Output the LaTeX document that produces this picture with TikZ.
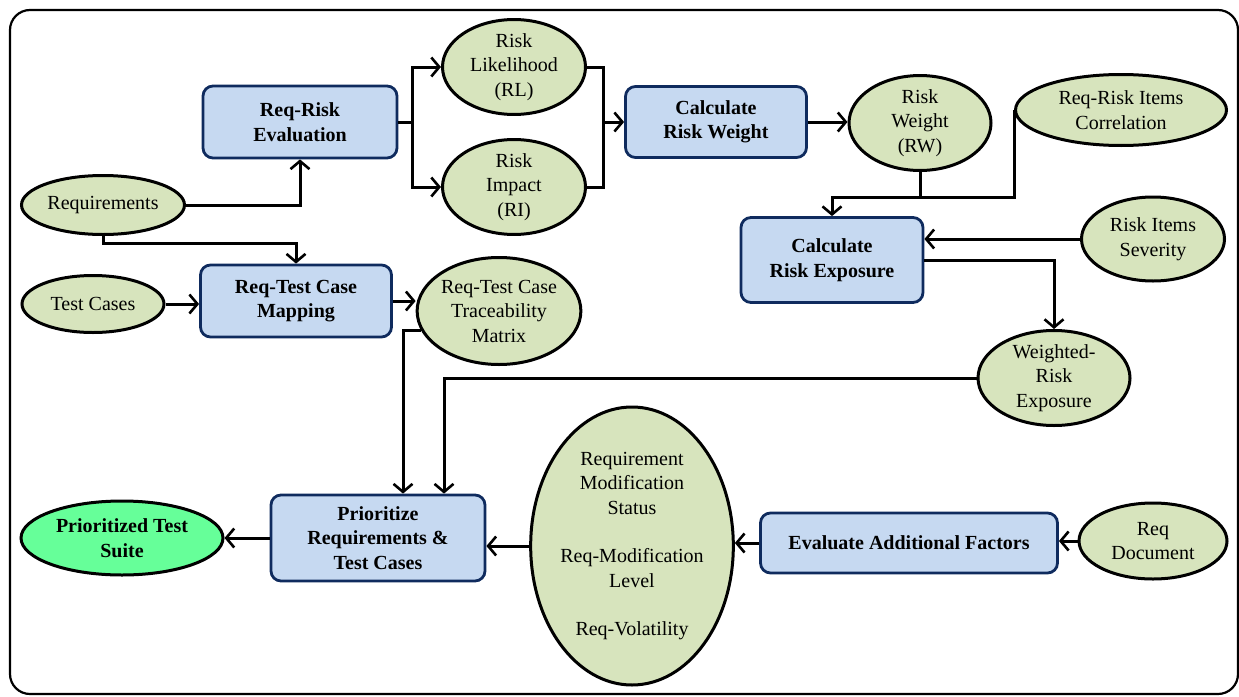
\documentclass[tikz,border=0pt]{standalone}
\usepackage{fontspec}
\setmainfont{Liberation Serif}
\usetikzlibrary{shapes.geometric,arrows.meta,calc}
\definecolor{boxfill}{HTML}{C6D9F1}
\definecolor{boxline}{HTML}{0F2B5E}
\definecolor{ellfill}{HTML}{D7E4BD}
\definecolor{suitefill}{HTML}{66FF99}
\begin{document}
\begin{tikzpicture}[x=1pt,y=-1pt,
  every node/.style={font=\rmfamily\fontsize{20}{24.5}\selectfont, align=center, inner sep=0pt},
  procbox/.style={rectangle, rounded corners=10pt, draw=boxline, line width=2.8pt, fill=boxfill, font=\rmfamily\fontsize{20}{24.5}\selectfont\bfseries},
  dataell/.style={ellipse, draw=black, line width=3pt, fill=ellfill},
  conn/.style={line width=3pt, draw=black},
  arr/.style={conn, -{Straight Barb[length=8pt,width=19pt,line width=2.6pt]}}
]
\useasboundingbox (0,0) rectangle (1239,696);
\draw[line width=2.2pt, rounded corners=20pt] (10,10) rectangle (1238,694);

% nodes
\node[procbox, minimum width=194, minimum height=72] (rre) at (300,122) {Req-Risk\\Evaluation};
\node[dataell, minimum width=143, minimum height=79] (rl) at (514,67) {Risk\\Likelihood\\(RL)};
\node[dataell, minimum width=143, minimum height=79] (ri) at (514,187) {Risk\\Impact\\(RI)};
\node[procbox, minimum width=181, minimum height=71] (crw) at (716,122) {Calculate\\Risk Weight};
\node[dataell, minimum width=142, minimum height=94] (rw) at (920,123) {Risk\\Weight\\(RW)};
\node[dataell, minimum width=211, minimum height=71] (corr) at (1121,110) {Req-Risk Items\\Correlation};
\node[procbox, minimum width=182, minimum height=85] (cre) at (832,260) {Calculate\\Risk Exposure};
\node[dataell, minimum width=143, minimum height=84] (sev) at (1153,239) {Risk Items\\Severity};
\node[dataell, minimum width=152, minimum height=95] (wre) at (1054,378) {Weighted-\\Risk\\Exposure};
\node[dataell, minimum width=163, minimum height=59] (req) at (103,205) {Requirements};
\node[dataell, minimum width=142, minimum height=57] (tc) at (93,304) {Test Cases};
\node[procbox, minimum width=191, minimum height=72] (map) at (296,301) {Req-Test Case\\Mapping};
\node[dataell, minimum width=145, minimum height=107] (tm) at (499,311) {Req-Test Case\\Traceability\\Matrix};
\node[procbox, minimum width=214, minimum height=86] (prio) at (378,538) {Prioritize\\Requirements \&\\Test Cases};
\node[dataell, fill=suitefill, minimum width=202, minimum height=74, font=\rmfamily\fontsize{20}{24.5}\selectfont\bfseries] (pts) at (122,538) {Prioritized Test\\Suite};
\node[dataell, minimum width=196, minimum height=278] (big) at (632,546) {Requirement\\Modification\\Status\\[24pt]Req-Modification\\Level\\[24pt]Req-Volatility};
\node[procbox, minimum width=297, minimum height=60] (eaf) at (909,543) {Evaluate Additional Factors};
\node[dataell, minimum width=148, minimum height=76] (rd) at (1153,541) {Req\\Document};

% connectors
\coordinate (h) at (0,197);
\coordinate (j1) at (603,122);
\coordinate (s1) at (412,122);

\draw[arr] (req.east) -| (rre.south);
\draw[arr] (req.south) -- ++(0,7) -| (map.north);
\draw[conn] (rre.east) -- (s1);
\draw[arr] (s1) |- (rl.west);
\draw[arr] (s1) |- (ri.west);
\draw[conn] (rl.east) -| (j1);
\draw[conn] (ri.east) -| (j1);
\draw[arr] (j1) -- (crw.west);
\draw[arr] (crw.east) -- (crw.east -| rw.west);
\draw[arr] (rw.south) |- (cre.north |- h) -- (cre.north);
\draw[conn] (corr.west) -- (corr.west |- h) -- (rw.south |- h);
\draw[arr] (sev.west) -- (cre.east |- sev.west);
\draw[arr] (cre.east) -| (wre.north);
\draw[arr] (tc.east) -- (map.west |- tc.east);
\draw[arr] (map.east) -- (tm.west |- map.east);
\draw[arr] (tm.194) -| ([xshift=25]prio.north);
\draw[arr] (wre.west) -| ([xshift=66]prio.north);
\draw[arr] (big.west) -- (prio.east |- big.west);
\draw[arr] (eaf.west) -- (big.east |- eaf.west);
\draw[arr] (rd.west) -- (eaf.east |- rd.west);
\draw[arr] (prio.west) -- (pts.east |- prio.west);
\end{tikzpicture}
\end{document}
